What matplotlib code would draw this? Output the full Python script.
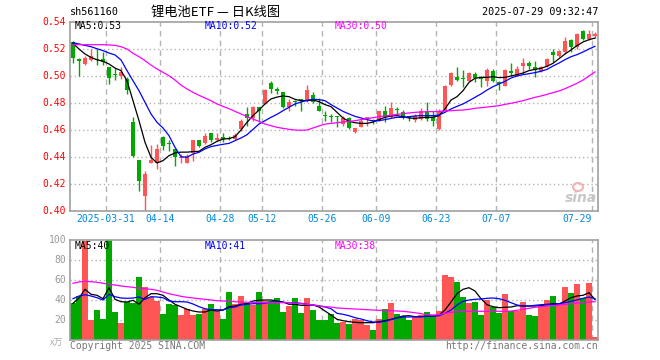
import matplotlib
matplotlib.use("Agg")
import matplotlib.pyplot as plt
from matplotlib.patches import Ellipse

# daily candles, 2025-03-21 .. 2025-07-29 (88 trading days)
opens = [0.5250, 0.5126, 0.5090, 0.5120, 0.5126, 0.5126, 0.5068, 0.5013, 0.5000, 0.4980,
         0.4662, 0.4380, 0.4109, 0.4357, 0.4357, 0.4546, 0.4497, 0.4459, 0.4392, 0.4357,
         0.4430, 0.4526, 0.4504, 0.4578, 0.4526, 0.4543, 0.4535, 0.4533, 0.4608, 0.4719,
         0.4686, 0.4768, 0.4793, 0.4946, 0.4904, 0.4879, 0.4773, 0.4815, 0.4820, 0.4817,
         0.4862, 0.4780, 0.4710, 0.4702, 0.4703, 0.4645, 0.4689, 0.4583, 0.4625, 0.4689,
         0.4670, 0.4669, 0.4738, 0.4694, 0.4750, 0.4731, 0.4692, 0.4674, 0.4681, 0.4738,
         0.4694, 0.4607, 0.4743, 0.4936, 0.4990, 0.4983, 0.4965, 0.5015, 0.4981, 0.4965,
         0.5040, 0.4948, 0.4928, 0.5040, 0.5002, 0.5072, 0.5094, 0.5064, 0.5035, 0.5072,
         0.5175, 0.5151, 0.5175, 0.5267, 0.5212, 0.5336, 0.5274, 0.5294]
highs = [0.5260, 0.5130, 0.5150, 0.5200, 0.5199, 0.5180, 0.5068, 0.5060, 0.5070, 0.4990,
         0.4694, 0.4380, 0.4299, 0.4489, 0.4496, 0.4553, 0.4526, 0.4460, 0.4422, 0.4420,
         0.4526, 0.4526, 0.4578, 0.4578, 0.4578, 0.4580, 0.4558, 0.4578, 0.4680, 0.4773,
         0.4780, 0.4768, 0.4904, 0.4960, 0.4916, 0.4882, 0.4830, 0.4822, 0.4830, 0.4933,
         0.4880, 0.4837, 0.4743, 0.4720, 0.4706, 0.4706, 0.4694, 0.4615, 0.4681, 0.4699,
         0.4680, 0.4743, 0.4780, 0.4805, 0.4773, 0.4748, 0.4706, 0.4718, 0.4763, 0.4805,
         0.4743, 0.4756, 0.4936, 0.5027, 0.5069, 0.5042, 0.5027, 0.5027, 0.5002, 0.5057,
         0.5052, 0.4965, 0.5049, 0.5096, 0.5072, 0.5133, 0.5114, 0.5114, 0.5072, 0.5133,
         0.5200, 0.5190, 0.5286, 0.5274, 0.5319, 0.5343, 0.5341, 0.5323]
lows = [0.5100, 0.5000, 0.5084, 0.5110, 0.5080, 0.5080, 0.4940, 0.4970, 0.4980, 0.4870,
        0.4403, 0.4146, 0.4000, 0.4355, 0.4310, 0.4454, 0.4447, 0.4330, 0.4353, 0.4352,
        0.4370, 0.4472, 0.4500, 0.4510, 0.4520, 0.4510, 0.4523, 0.4526, 0.4595, 0.4632,
        0.4669, 0.4662, 0.4790, 0.4872, 0.4867, 0.4763, 0.4743, 0.4780, 0.4743, 0.4805,
        0.4800, 0.4743, 0.4664, 0.4657, 0.4625, 0.4632, 0.4607, 0.4575, 0.4620, 0.4632,
        0.4645, 0.4664, 0.4657, 0.4689, 0.4713, 0.4681, 0.4669, 0.4657, 0.4674, 0.4669,
        0.4632, 0.4600, 0.4738, 0.4928, 0.4960, 0.4922, 0.4960, 0.4953, 0.4921, 0.4928,
        0.4958, 0.4899, 0.4923, 0.5002, 0.4998, 0.5015, 0.5052, 0.4990, 0.5030, 0.5069,
        0.5101, 0.5140, 0.5163, 0.5175, 0.5200, 0.5267, 0.5267, 0.5284]
closes = [0.5130, 0.5108, 0.5134, 0.5150, 0.5118, 0.5101, 0.4985, 0.5005, 0.5030, 0.4900,
          0.4410, 0.4225, 0.4274, 0.4380, 0.4460, 0.4479, 0.4494, 0.4398, 0.4395, 0.4405,
          0.4526, 0.4484, 0.4558, 0.4526, 0.4540, 0.4537, 0.4533, 0.4563, 0.4669, 0.4686,
          0.4768, 0.4743, 0.4899, 0.4904, 0.4886, 0.4773, 0.4805, 0.4810, 0.4818, 0.4896,
          0.4810, 0.4743, 0.4706, 0.4697, 0.4698, 0.4689, 0.4615, 0.4615, 0.4669, 0.4692,
          0.4668, 0.4738, 0.4694, 0.4763, 0.4746, 0.4689, 0.4689, 0.4706, 0.4738, 0.4681,
          0.4664, 0.4743, 0.4928, 0.5020, 0.4970, 0.4978, 0.5020, 0.4985, 0.4978, 0.5044,
          0.4965, 0.4944, 0.5044, 0.5022, 0.5052, 0.5094, 0.5072, 0.5047, 0.5064, 0.5126,
          0.5156, 0.5188, 0.5262, 0.5212, 0.5311, 0.5274, 0.5311, 0.5311]

# moving averages as drawn on the chart
ma5 = [0.5242, 0.5200, 0.5163, 0.5138, 0.5120, 0.5109, 0.5089, 0.5059, 0.5040, 0.4965,
       0.4817, 0.4669, 0.4509, 0.4398, 0.4356, 0.4373, 0.4410, 0.4430, 0.4436, 0.4436,
       0.4440, 0.4442, 0.4472, 0.4491, 0.4516, 0.4533, 0.4536, 0.4550, 0.4600, 0.4657,
       0.4706, 0.4748, 0.4793, 0.4830, 0.4844, 0.4852, 0.4847, 0.4827, 0.4817, 0.4817,
       0.4822, 0.4810, 0.4788, 0.4773, 0.4731, 0.4689, 0.4664, 0.4654, 0.4649, 0.4649,
       0.4659, 0.4677, 0.4694, 0.4704, 0.4706, 0.4699, 0.4689, 0.4686, 0.4691, 0.4694,
       0.4694, 0.4706, 0.4756, 0.4822, 0.4847, 0.4891, 0.4953, 0.4983, 0.4990, 0.4990,
       0.4995, 0.4988, 0.4990, 0.5000, 0.5010, 0.5022, 0.5040, 0.5049, 0.5057, 0.5072,
       0.5094, 0.5128, 0.5163, 0.5193, 0.5225, 0.5252, 0.5269, 0.5281]
ma10 = [0.5247, 0.5237, 0.5227, 0.5217, 0.5202, 0.5188, 0.5170, 0.5156, 0.5119, 0.5040,
        0.4965, 0.4891, 0.4805, 0.4719, 0.4657, 0.4615, 0.4558, 0.4472, 0.4402, 0.4398,
        0.4422, 0.4435, 0.4460, 0.4477, 0.4486, 0.4494, 0.4501, 0.4521, 0.4541, 0.4565,
        0.4605, 0.4644, 0.4669, 0.4694, 0.4716, 0.4743, 0.4768, 0.4793, 0.4807, 0.4820,
        0.4827, 0.4825, 0.4817, 0.4788, 0.4763, 0.4738, 0.4719, 0.4701, 0.4689, 0.4677,
        0.4667, 0.4669, 0.4677, 0.4686, 0.4694, 0.4694, 0.4699, 0.4704, 0.4706, 0.4706,
        0.4706, 0.4711, 0.4731, 0.4756, 0.4775, 0.4793, 0.4817, 0.4842, 0.4867, 0.4896,
        0.4921, 0.4941, 0.4960, 0.4985, 0.5000, 0.5010, 0.5017, 0.5025, 0.5035, 0.5049,
        0.5074, 0.5096, 0.5121, 0.5143, 0.5158, 0.5178, 0.5200, 0.5220]
ma30 = [0.5232, 0.5232, 0.5232, 0.5232, 0.5232, 0.5232, 0.5230, 0.5227, 0.5217, 0.5200,
        0.5168, 0.5143, 0.5114, 0.5081, 0.5052, 0.5027, 0.5002, 0.4970, 0.4933, 0.4904,
        0.4879, 0.4857, 0.4837, 0.4817, 0.4793, 0.4775, 0.4758, 0.4738, 0.4719, 0.4699,
        0.4681, 0.4664, 0.4644, 0.4632, 0.4620, 0.4612, 0.4605, 0.4600, 0.4598, 0.4600,
        0.4615, 0.4630, 0.4644, 0.4649, 0.4654, 0.4659, 0.4664, 0.4669, 0.4677, 0.4684,
        0.4691, 0.4699, 0.4704, 0.4709, 0.4716, 0.4721, 0.4726, 0.4731, 0.4733, 0.4736,
        0.4736, 0.4738, 0.4741, 0.4743, 0.4746, 0.4748, 0.4753, 0.4761, 0.4765, 0.4770,
        0.4775, 0.4780, 0.4790, 0.4798, 0.4807, 0.4817, 0.4830, 0.4842, 0.4852, 0.4864,
        0.4877, 0.4889, 0.4906, 0.4926, 0.4946, 0.4970, 0.5000, 0.5030]

# volume, 万手
volumes = [37, 44, 99, 20, 30, 21, 100, 28, 17, 38, 37, 63, 53, 43, 39, 26, 36, 35, 25, 31,
           25, 26, 31, 36, 29, 21, 48, 36, 44, 37, 35, 48, 39, 39, 42, 28, 34, 42, 27, 42,
           30, 20, 20, 26, 17, 18, 16, 21, 20, 15, 10, 21, 31, 37, 26, 24, 20, 23, 25, 28,
           24, 29, 65, 63, 58, 43, 37, 38, 25, 40, 33, 27, 46, 29, 29, 38, 25, 24, 35, 40,
           44, 37, 53, 47, 56, 42, 57, 3]
vma5 = [36.7, 42.0, 50.7, 45.7, 44.7, 41.3, 52.3, 40.7, 38.3, 38.0, 39.7, 35.7, 42.3, 46.3,
        46.3, 44.7, 40.0, 35.7, 33.3, 30.7, 29.0, 28.0, 28.0, 30.0, 29.0, 30.0, 33.3, 34.0,
        35.7, 36.3, 39.0, 39.7, 40.0, 40.0, 39.0, 38.0, 35.7, 35.7, 34.7, 34.7, 35.0, 33.0,
        29.0, 25.0, 20.7, 19.3, 18.3, 17.7, 17.3, 17.3, 17.3, 18.3, 19.3, 20.7, 22.3, 24.0,
        24.3, 23.3, 23.3, 23.7, 24.0, 24.7, 30.0, 38.0, 46.3, 50.7, 52.3, 49.0, 41.3, 35.3,
        33.3, 32.3, 32.7, 33.0, 34.3, 34.0, 34.0, 34.0, 34.3, 35.3, 36.3, 36.0, 39.0, 42.3,
        44.0, 44.7, 47.3, 40.4]
vma10 = [41.3, 44.0, 45.3, 44.0, 42.3, 40.0, 45.7, 43.3, 42.0, 41.7, 42.0, 43.0, 40.7, 43.3,
         43.0, 42.3, 39.0, 38.3, 38.3, 38.0, 36.0, 33.3, 31.3, 30.3, 30.3, 30.0, 32.3, 33.0,
         35.0, 35.7, 36.3, 36.3, 36.7, 38.0, 38.0, 37.7, 37.3, 37.3, 36.7, 35.7, 35.0, 34.3,
         33.0, 31.3, 26.7, 25.7, 24.3, 22.3, 21.0, 19.3, 18.0, 17.7, 18.7, 20.3, 22.0, 23.0,
         23.0, 23.3, 23.3, 23.7, 24.0, 24.3, 26.7, 30.0, 35.0, 38.7, 40.0, 40.7, 41.0, 41.7,
         42.0, 41.3, 39.7, 37.3, 35.0, 34.0, 34.0, 34.7, 35.3, 35.7, 35.7, 36.3, 37.3, 38.7,
         40.0, 41.7, 43.0, 41.3]
vma30 = [56.7, 58.0, 58.7, 58.3, 57.7, 56.7, 55.7, 55.0, 54.0, 53.3, 52.7, 51.7, 51.3, 50.7,
         49.7, 48.0, 46.3, 45.0, 43.7, 42.7, 42.0, 41.3, 40.7, 40.0, 39.3, 39.0, 38.7, 38.3,
         38.0, 37.7, 37.7, 37.3, 37.3, 37.3, 37.3, 37.3, 37.3, 37.0, 36.3, 35.7, 35.0, 34.0,
         33.3, 33.0, 32.0, 31.7, 31.3, 31.0, 30.7, 30.3, 30.0, 29.7, 29.7, 29.3, 29.0, 28.7,
         28.0, 27.3, 26.3, 25.3, 25.0, 25.3, 26.7, 27.7, 28.3, 28.7, 28.7, 28.7, 28.7, 28.7,
         28.7, 28.7, 28.7, 29.0, 29.7, 30.7, 31.7, 32.7, 33.3, 34.0, 34.3, 35.0, 35.7, 36.3,
         37.0, 37.5, 38.0, 38.3]

tick_days = [6, 15, 25, 32, 42, 51, 61, 71, 87]
tick_labels = ["2025-03-31", "04-14", "04-28", "05-12", "05-26",
               "06-09", "06-23", "07-07", "07-29"]
price_ticks = [0.40, 0.42, 0.44, 0.46, 0.48, 0.50, 0.52, 0.54]
vol_ticks = [20, 40, 60, 80, 100]

RED = "#ff5555"
GREEN = "#00a800"
GRID = "#b4b4b4"
FRAME = "#a0a0a0"
MONO = "DejaVu Sans Mono"
W, H = 660, 360


def fx(x):
    return x / W


def fy(y):
    return 1 - y / H


fig = plt.figure(figsize=(6.6, 3.6), dpi=100)
ax = fig.add_axes([fx(70), fy(211), 528 / W, 189 / H])
axv = fig.add_axes([fx(70), fy(340), 528 / W, 100 / H])

n = len(closes)
xs = list(range(n))
colors = [RED if c >= o else GREEN for o, c in zip(opens, closes)]

for a in (ax, axv):
    a.set_xlim(-0.5, n - 0.5)
    for d in tick_days:
        a.axvline(d - 0.5, color=GRID, lw=1, ls=(0, (4, 3)), zorder=0)
    a.set_xticks([])
    a.tick_params(left=False, labelleft=False)
    for s in a.spines.values():
        s.set_color(FRAME)
        s.set_linewidth(1.2)

# price panel
ax.set_ylim(0.40, 0.54)
for p in price_ticks[1:-1]:
    ax.axhline(p, color=GRID, lw=1, ls=(0, (1, 2)), zorder=0)
ax.vlines(xs, lows, highs, colors=colors, lw=1, zorder=2)
bottoms = [min(o, c) for o, c in zip(opens, closes)]
heights = [max(abs(c - o), 0.0008) for o, c in zip(opens, closes)]
ax.bar(xs, heights, bottom=bottoms, width=0.8, color=colors, lw=0, zorder=3)
ax.plot(xs, ma5, color="black", lw=0.9, zorder=4)
ax.plot(xs, ma10, color="#0000ff", lw=0.9, zorder=4)
ax.plot(xs, ma30, color="#ff00ff", lw=0.9, zorder=4)

for p in price_ticks:
    fig.text(fx(66), fy(211 - (p - 0.40) / 0.14 * 189), f"{p:.2f}", color="#ff0000",
             family=MONO, fontsize=7, ha="right", va="center")

for d, lab in zip(tick_days, tick_labels):
    ha = "right" if d == n - 1 else "center"
    fig.text(fx(70 + 6 * d), fy(219), lab, color="#0088dd", family=MONO,
             fontsize=7, ha=ha, va="center")

fig.text(fx(75), fy(26), f"MA5:{ma5[-1]:.2f}", color="black", family=MONO, fontsize=7, va="center")
fig.text(fx(205), fy(26), f"MA10:{ma10[-1]:.2f}", color="#0000ff", family=MONO, fontsize=7, va="center")
fig.text(fx(335), fy(26), f"MA30:{ma30[-1]:.2f}", color="#ff00ff", family=MONO, fontsize=7, va="center")

# header
fig.text(fx(70), fy(12), "sh561160", color="black", family=MONO, fontsize=7.3, va="center")
fig.text(fx(216), fy(12), "锂电池ETF — 日K线图", color="black",
         family=["Noto Sans CJK SC", "DejaVu Sans"], fontsize=9.5, ha="center", va="center")
fig.text(fx(598), fy(12), "2025-07-29 09:32:47", color="black", family=MONO, fontsize=7.3,
         ha="right", va="center")

# watermark logo
fig.text(fx(597), fy(198), "sina", color="#c8c8c8", fontsize=10, fontweight="bold",
         style="italic", ha="right", va="center")
fig.patches.append(Ellipse((fx(578), fy(187)), 10 / W, 8 / H, transform=fig.transFigure,
                           facecolor="none", edgecolor="#f2b4b4", lw=1.5))

# volume panel
axv.set_ylim(0, 100)
for v in vol_ticks[:-1]:
    axv.axhline(v, color=GRID, lw=1, ls=(0, (1, 2)), zorder=0)
axv.bar(xs, volumes, width=0.88, color=colors, lw=0, zorder=2)
axv.plot(xs, vma5, color="black", lw=0.9, zorder=4)
axv.plot(xs, vma10, color="#0000ff", lw=0.9, zorder=4)
axv.plot(xs, vma30, color="#ff00ff", lw=0.9, zorder=4)

for v in vol_ticks:
    fig.text(fx(66), fy(340 - v), f"{v}", color="#999999", family=MONO, fontsize=7,
             ha="right", va="center")
fig.text(fx(63), fy(343), "x万", color="#aaaaaa", family=["Noto Sans CJK SC", "DejaVu Sans"],
         fontsize=6.5, ha="right", va="center")

fig.text(fx(75), fy(246), f"MA5:{vma5[-1]:.0f}", color="black", family=MONO, fontsize=7, va="center")
fig.text(fx(205), fy(246), f"MA10:{vma10[-1]:.0f}", color="#0000ff", family=MONO, fontsize=7, va="center")
fig.text(fx(335), fy(246), f"MA30:{vma30[-1]:.0f}", color="#ff00ff", family=MONO, fontsize=7, va="center")

fig.text(fx(70), fy(346), "Copyright 2025 SINA.COM", color="#777777", family=MONO,
         fontsize=7, va="center")
fig.text(fx(598), fy(346), "http://finance.sina.com.cn", color="#777777", family=MONO,
         fontsize=7, ha="right", va="center")

fig.savefig("out.png", dpi=100)
